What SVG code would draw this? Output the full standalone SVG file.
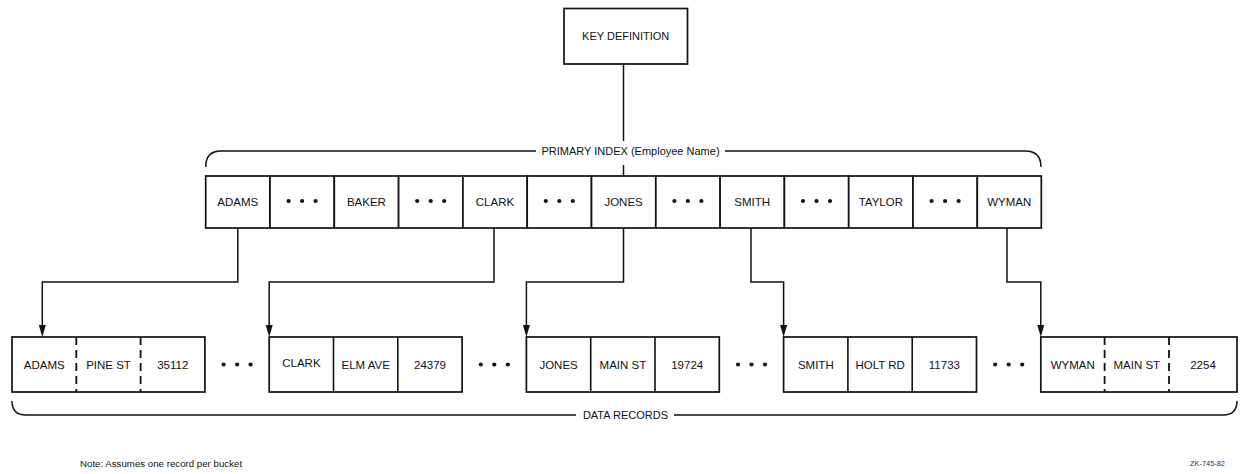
<svg xmlns="http://www.w3.org/2000/svg" width="1245" height="474" viewBox="0 0 1245 474">
<style>
.bx{fill:#fff;stroke:#111;stroke-width:1.7}
.ln{fill:none;stroke:#111;stroke-width:1.5}
.dv{fill:none;stroke:#111;stroke-width:1.6}
.dd{fill:none;stroke:#111;stroke-width:1.8;stroke-dasharray:8 5}
.t{font-family:"Liberation Sans",Arial,sans-serif;font-size:11.5px;fill:#111;text-anchor:middle}
.s{font-family:"Liberation Sans",Arial,sans-serif;font-size:11px;fill:#111;text-anchor:middle}
.dot{fill:#111}
.ah{fill:#111;stroke:none}
</style>
<defs>
<g id="d3"><circle cx="-13.5" cy="0" r="2.1"/><circle cx="0" cy="0" r="2.1"/><circle cx="13.5" cy="0" r="2.1"/></g>
<path id="arr" d="M-3.5,-12 L0,0 L3.5,-12 Z"/>
</defs>
<rect width="1245" height="474" fill="#fff"/>

<g id="key-definition">
<rect class="bx" x="564" y="8.5" width="123.5" height="55.5"/>
<text class="s" x="625.7" y="40">KEY DEFINITION</text>
</g>

<g id="primary-index-brace">
<path class="ln" d="M205.7,167 Q205.7,151 221,151 H536"/>
<path class="ln" d="M725,151 H1025 Q1041,151 1041,167"/>
<text class="s" x="630.5" y="155">PRIMARY INDEX (Employee Name)</text>
</g>

<g id="index-adams"><rect class="bx" x="205.7" y="176" width="64.3" height="52"/><text class="t" x="237.8" y="206">ADAMS</text></g>
<g id="index-gap1"><rect class="bx" x="270" y="176" width="64.3" height="52"/><use href="#d3" x="302.1" y="201" class="dot"/></g>
<g id="index-baker"><rect class="bx" x="334.3" y="176" width="64.3" height="52"/><text class="t" x="366.4" y="206">BAKER</text></g>
<g id="index-gap2"><rect class="bx" x="398.6" y="176" width="64.3" height="52"/><use href="#d3" x="430.7" y="201" class="dot"/></g>
<g id="index-clark"><rect class="bx" x="462.9" y="176" width="64.3" height="52"/><text class="t" x="495" y="206">CLARK</text></g>
<g id="index-gap3"><rect class="bx" x="527.2" y="176" width="64.3" height="52"/><use href="#d3" x="559.3" y="201" class="dot"/></g>
<g id="index-jones"><rect class="bx" x="591.5" y="176" width="64.3" height="52"/><text class="t" x="623.6" y="206">JONES</text></g>
<g id="index-gap4"><rect class="bx" x="655.8" y="176" width="64.3" height="52"/><use href="#d3" x="687.9" y="201" class="dot"/></g>
<g id="index-smith"><rect class="bx" x="720.1" y="176" width="64.3" height="52"/><text class="t" x="752.2" y="206">SMITH</text></g>
<g id="index-gap5"><rect class="bx" x="784.4" y="176" width="64.3" height="52"/><use href="#d3" x="816.5" y="201" class="dot"/></g>
<g id="index-taylor"><rect class="bx" x="848.7" y="176" width="64.3" height="52"/><text class="t" x="880.8" y="206">TAYLOR</text></g>
<g id="index-gap6"><rect class="bx" x="913" y="176" width="64.3" height="52"/><use href="#d3" x="945.1" y="201" class="dot"/></g>
<g id="index-wyman"><rect class="bx" x="977.3" y="176" width="64" height="52"/><text class="t" x="1009.3" y="206">WYMAN</text></g>

<g id="record-adams">
<rect class="bx" x="12" y="337" width="192.9" height="55"/>
<line class="dd" x1="76.3" y1="337" x2="76.3" y2="392"/>
<line class="dd" x1="140.6" y1="337" x2="140.6" y2="392"/>
<text class="t" x="44.2" y="368.5">ADAMS</text><text class="t" x="108.5" y="368.5">PINE ST</text><text class="t" x="172.8" y="368.5">35112</text>
</g>
<g id="gap-r1" class="dot"><use href="#d3" x="237.1" y="364.5"/></g>
<g id="record-clark">
<rect class="bx" x="269.2" y="337" width="192.9" height="55"/>
<line class="dv" x1="333.5" y1="337" x2="333.5" y2="392"/>
<line class="dv" x1="397.8" y1="337" x2="397.8" y2="392"/>
<text class="t" x="301.4" y="367">CLARK</text><text class="t" x="365.7" y="368.5">ELM AVE</text><text class="t" x="430" y="369">24379</text>
</g>
<g id="gap-r2" class="dot"><use href="#d3" x="494.3" y="364.5"/></g>
<g id="record-jones">
<rect class="bx" x="526.4" y="337" width="192.9" height="55"/>
<line class="dv" x1="590.7" y1="337" x2="590.7" y2="392"/>
<line class="dv" x1="655" y1="337" x2="655" y2="392"/>
<text class="t" x="558.6" y="368.5">JONES</text><text class="t" x="622.9" y="368.5">MAIN ST</text><text class="t" x="687.2" y="368.5">19724</text>
</g>
<g id="gap-r3" class="dot"><use href="#d3" x="751.5" y="364.5"/></g>
<g id="record-smith">
<rect class="bx" x="783.6" y="337" width="192.9" height="55"/>
<line class="dv" x1="847.9" y1="337" x2="847.9" y2="392"/>
<line class="dv" x1="912.2" y1="337" x2="912.2" y2="392"/>
<text class="t" x="815.8" y="368.5">SMITH</text><text class="t" x="880.1" y="368.5">HOLT RD</text><text class="t" x="944.4" y="368.5">11733</text>
</g>
<g id="gap-r4" class="dot"><use href="#d3" x="1008.7" y="364.5"/></g>
<g id="record-wyman">
<rect class="bx" x="1040.8" y="337" width="196.2" height="55"/>
<line class="dd" x1="1104.6" y1="337" x2="1104.6" y2="392"/>
<line class="dd" x1="1169" y1="337" x2="1169" y2="392"/>
<text class="t" x="1072.7" y="368.5">WYMAN</text><text class="t" x="1136.8" y="368.5">MAIN ST</text><text class="t" x="1203" y="368.5">2254</text>
</g>

<g id="data-records-brace">
<path class="ln" d="M12,401 Q12,415 26,415 H576"/>
<path class="ln" d="M674,415 H1223 Q1237,415 1237,401"/>
<text class="s" x="625.5" y="419">DATA RECORDS</text>
</g>

<g id="connectors">
<line class="ln" x1="623.5" y1="64" x2="623.5" y2="141"/>
<line class="ln" x1="623.5" y1="165" x2="623.5" y2="176"/>
<polyline class="ln" points="237.8,228 237.8,282 42.3,282 42.3,328"/>
<polyline class="ln" points="494,228 494,282 269.2,282 269.2,328"/>
<polyline class="ln" points="623.5,228 623.5,282 526.4,282 526.4,328"/>
<polyline class="ln" points="751,228 751,282 783.6,282 783.6,328"/>
<polyline class="ln" points="1007,228 1007,282 1040.8,282 1040.8,328"/>
<use href="#arr" class="ah" x="42.3" y="337"/>
<use href="#arr" class="ah" x="269.2" y="337"/>
<use href="#arr" class="ah" x="526.4" y="337"/>
<use href="#arr" class="ah" x="783.6" y="337"/>
<use href="#arr" class="ah" x="1040.8" y="337"/>
</g>

<text x="80" y="466.5" style="font-family:'Liberation Sans',Arial,sans-serif;font-size:9.7px;fill:#111">Note: Assumes one record per bucket</text>
<text x="1190" y="465.5" style="font-family:'Liberation Sans',Arial,sans-serif;font-size:7.4px;fill:#333">ZK-745-82</text>
</svg>
